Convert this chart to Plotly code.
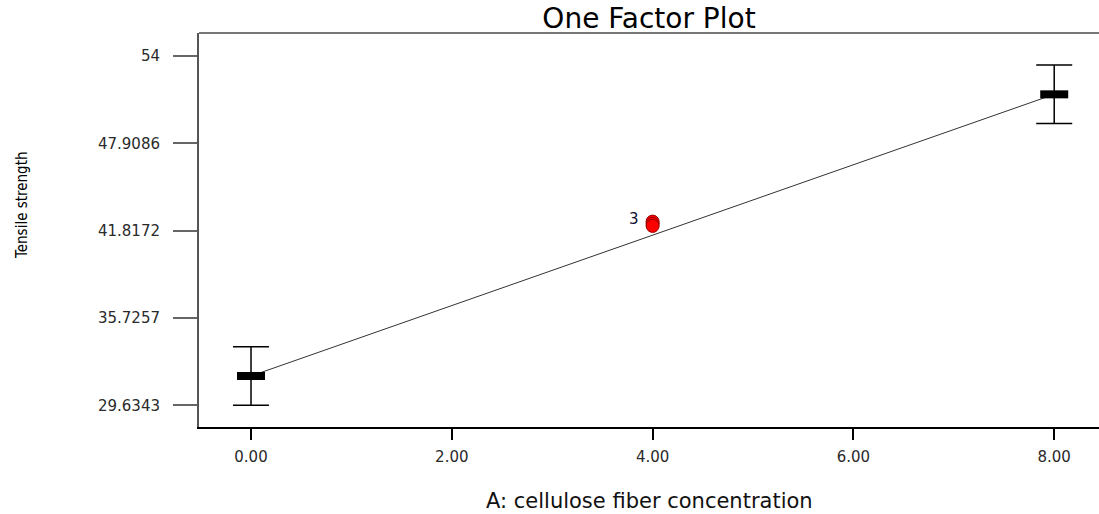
import plotly.graph_objects as go

# Factor levels and predicted response with confidence half-widths
factor_levels = [0, 8]
predicted_means = [31.68, 51.33]
ci_halfwidth = [2.04, 2.04]

# Design points replicated at the centre level
design_x = [4, 4, 4]
design_y = [42.45, 42.3, 42.15]

x_tick_vals = [0, 2, 4, 6, 8]
x_tick_text = ["0.00", "2.00", "4.00", "6.00", "8.00"]
y_tick_vals = [29.6343, 35.7257, 41.8172, 47.9086, 54]
y_tick_text = ["29.6343", "35.7257", "41.8172", "47.9086", "54"]

TICK_FONT = dict(family="DejaVu Sans, Arial, sans-serif", size=15, color="#2a2a2a")

fig = go.Figure()

# Model prediction line
fig.add_trace(go.Scatter(
    x=factor_levels, y=predicted_means, mode="lines",
    line=dict(color="#333333", width=1), hoverinfo="skip", showlegend=False,
))

# Predicted means with error bars
fig.add_trace(go.Scatter(
    x=factor_levels, y=predicted_means, mode="markers",
    marker=dict(symbol="line-ew", size=20, color="black",
                line=dict(color="black", width=8)),
    error_y=dict(type="data", array=ci_halfwidth, visible=True,
                 color="black", thickness=1.5, width=18),
    showlegend=False,
))

# Actual design points
fig.add_trace(go.Scatter(
    x=design_x, y=design_y, mode="markers",
    marker=dict(symbol="circle", size=13, color="#ff0000",
                line=dict(color="#990000", width=1)),
    showlegend=False,
))

fig.add_annotation(
    x=design_x[0], y=max(design_y), xref="x", yref="y",
    text=str(len(design_y)), showarrow=False,
    xanchor="right", yanchor="middle", xshift=-12, yshift=3,
    font=dict(family="DejaVu Sans, Arial, sans-serif", size=15, color="#111133"),
)

# Axis titles
fig.add_annotation(
    x=0.5, y=-0.188, xref="paper", yref="paper",
    text="A: cellulose fiber concentration", showarrow=False,
    xanchor="center", yanchor="middle",
    font=dict(family="DejaVu Sans, Arial, sans-serif", size=21, color="#111111"),
)
fig.add_annotation(
    x=-0.1967, y=0.5635, xref="paper", yref="paper",
    text="Tensile strength", showarrow=False, textangle=-90,
    xanchor="center", yanchor="middle",
    font=dict(family="DejaVu Sans Condensed, Liberation Sans Narrow, sans-serif",
              size=15, color="#000000"),
)

# Top frame line
fig.add_shape(type="line", xref="paper", yref="paper", x0=0, x1=1, y0=1, y1=1,
              line=dict(color="#777777", width=2))

fig.update_layout(
    width=1099, height=514,
    margin=dict(l=199, r=0, t=33, b=87),
    paper_bgcolor="white", plot_bgcolor="white",
    title=dict(text="One Factor Plot", x=0.5, xref="paper", y=1 - 18 / 514,
               yref="container", xanchor="center", yanchor="middle",
               font=dict(family="DejaVu Sans, Arial, sans-serif", size=28, color="black")),
    showlegend=False,
)

fig.update_xaxes(
    range=[-0.518, 8.446], showgrid=False, zeroline=False,
    showline=True, linecolor="black", linewidth=1.5,
    tickmode="array", tickvals=x_tick_vals, ticktext=x_tick_text,
    ticks="outside", ticklen=11, tickwidth=1.5, tickcolor="black",
    tickfont=TICK_FONT, ticklabelstandoff=4,
)
fig.update_yaxes(
    range=[28.12, 55.61], showgrid=False, zeroline=False,
    showline=True, linecolor="#555555", linewidth=2,
    tickmode="array", tickvals=y_tick_vals, ticktext=y_tick_text,
    ticks="outside", ticklen=24, tickwidth=1.5, tickcolor="#666666",
    tickfont=TICK_FONT, ticklabelstandoff=10,
)

fig.write_html("out.html")
